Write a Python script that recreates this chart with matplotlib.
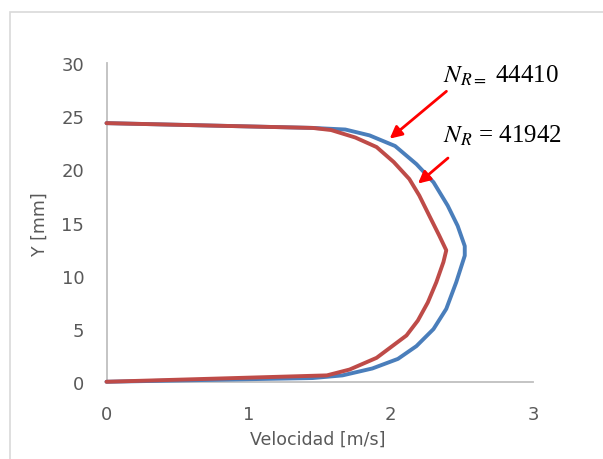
import numpy as np
import matplotlib
matplotlib.use("Agg")
import matplotlib.pyplot as plt
from matplotlib.patches import Rectangle

# perfil de velocidad, N_R = 44410 (azul)
vel_44410 = [0, 1.45, 1.68, 1.85, 2.03, 2.18, 2.30, 2.40, 2.47, 2.52, 2.52,
             2.46, 2.39, 2.30, 2.18, 2.05, 1.87, 1.66, 1.45, 0]
y_44410 = [24.35, 23.9, 23.75, 23.2, 22.2, 20.5, 18.8, 16.6, 14.7, 12.8, 11.9,
           9.4, 6.9, 5.0, 3.4, 2.2, 1.3, 0.65, 0.4, 0.05]

# perfil de velocidad, N_R = 41942 (rojo)
vel_41942 = [0, 1.45, 1.58, 1.75, 1.90, 2.02, 2.13, 2.20, 2.28, 2.34, 2.39,
             2.37, 2.32, 2.26, 2.19, 2.11, 2.0, 1.90, 1.71, 1.55, 0]
y_41942 = [24.35, 23.9, 23.7, 23.0, 22.1, 20.7, 19.1, 17.55, 15.4, 13.8, 12.4,
           11.3, 9.4, 7.5, 5.8, 4.4, 3.3, 2.3, 1.2, 0.65, 0.05]

xticks = [0, 1, 2, 3]
yticks = [0, 5, 10, 15, 20, 25, 30]

plt.rcParams['mathtext.fontset'] = 'stix'

fig = plt.figure(figsize=(6.03, 4.60), dpi=100)
ax = fig.add_axes([106.5/603, 1-383.3/460, (533-106.5)/603, (383.3-64)/460])

ax.plot(vel_44410, y_44410, color='#4A7EBB', lw=2.8, solid_joinstyle='round',
        solid_capstyle='round', clip_on=False, zorder=3)
ax.plot(vel_41942, y_41942, color='#BE4B48', lw=2.8, solid_joinstyle='round',
        solid_capstyle='round', clip_on=False, zorder=4)

ax.set_xlim(0, 3)
ax.set_ylim(0, 30)
ax.set_xticks(xticks)
ax.set_yticks(yticks)
for s in ['top', 'right']:
    ax.spines[s].set_visible(False)
for s in ['left', 'bottom']:
    ax.spines[s].set_color('#BFBFBF')
    ax.spines[s].set_linewidth(1.3)
ax.tick_params(length=0, labelsize=13, labelcolor='#595959')
ax.tick_params(axis='x', pad=16)
ax.tick_params(axis='y', pad=16)

fig.text(318/603, 1-440/460, 'Velocidad [m/s]', ha='center', va='center',
         fontsize=12.5, color='#595959')
fig.text(40/603, 1-224/460, 'Y [mm]', ha='center', va='center',
         fontsize=12.5, color='#595959', rotation=90)

ax.text(2.365, 28.25, r'$N_{R=}$ 44410', fontsize=18, family='Liberation Serif',
        ha='left', va='baseline')
ax.text(2.365, 22.6, r'$N_R$ = 41942', fontsize=18, family='Liberation Serif',
        ha='left', va='baseline')

arrow = dict(arrowstyle='-|>', color='#FF0000', lw=2, mutation_scale=18,
             shrinkA=0, shrinkB=0)
ax.annotate('', xy=(1.992, 22.89), xytext=(2.391, 27.34), arrowprops=arrow,
            annotation_clip=False)
ax.annotate('', xy=(2.191, 18.67), xytext=(2.402, 21.07), arrowprops=arrow,
            annotation_clip=False)

# marco del grafico
fig.patches.append(Rectangle((10/603, -0.1), 1.2, 1.1 - 12.5/460,
                             transform=fig.transFigure, fill=False,
                             ec='#D9D9D9', lw=1.2))

fig.savefig('out.png', dpi=100)
